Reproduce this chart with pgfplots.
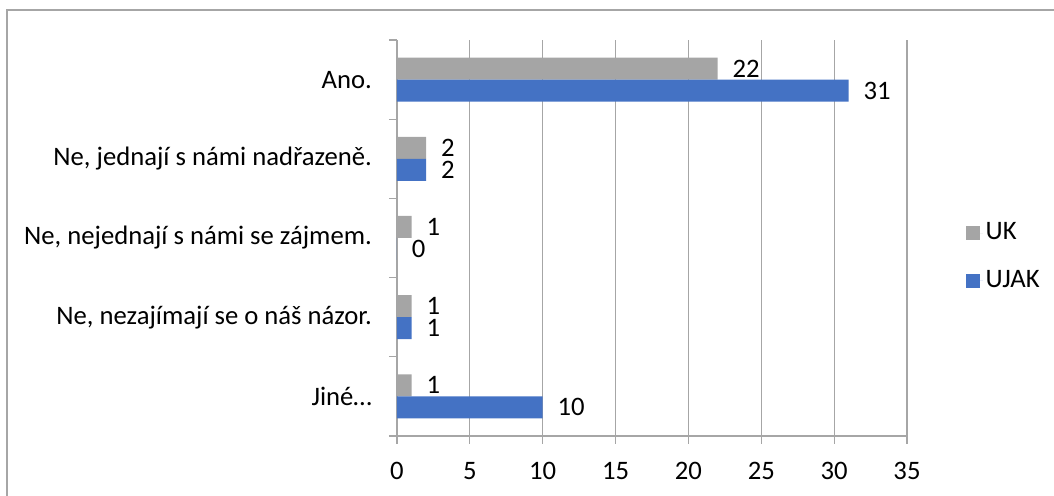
\documentclass[border=0pt]{standalone}
\usepackage{pgfplots}
\pgfplotsset{compat=1.18}
\usepackage{fontspec}
\setmainfont{Carlito}
\definecolor{ukgray}{HTML}{A5A5A5}
\definecolor{ujakblue}{HTML}{4472C4}
\definecolor{axgray}{HTML}{A6A6A6}
\begin{document}
\fontsize{20}{24}\selectfont
\begin{tikzpicture}[x=0.75pt,y=0.75pt]
\path[use as bounding box] (0,0) rectangle (1054,496);
\draw[color=axgray,line width=1.5pt] (6.5,0) -- (6.5,485.5) -- (1054,485.5);
\begin{axis}[
    at={(297.75pt,45pt)}, anchor=south west,
    scale only axis,
    width=382.5pt, height=297pt,
    xbar, bar width=16.5pt,
    xmin=0, xmax=35,
    ymin=-0.5, ymax=4.5,
    xtick={0,5,...,35},
    ytick={-0.5,0.5,1.5,2.5,3.5,4.5},
    yticklabels={},
    extra y ticks={0,1,2,3,4},
    extra y tick labels={Jiné…, {Ne, nezajímají se o náš názor.}, {Ne, nejednají s námi se zájmem.}, {Ne, jednají s námi nadřazeně.}, Ano.},
    extra y tick style={major tick length=0pt, yticklabel style={xshift=-12pt}},
    axis x line*=bottom, axis y line*=left,
    axis line style={draw=axgray, line width=0.8pt},
    tick style={draw=axgray, line width=0.8pt},
    tick align=outside, major tick length=6pt,
    xmajorgrids, grid style={draw=axgray, line width=0.8pt},
    xticklabel style={font=\fontsize{20}{24}\selectfont, yshift=-7pt},
    yticklabel style={font=\fontsize{20}{24}\selectfont},
    /pgf/number format/assume math mode=true,
    nodes near coords,
    every node near coord/.append style={anchor=west, inner sep=0pt, xshift=11pt, font=\fontsize{20}{24}\selectfont, color=black},
    legend style={at={(rel axis cs:1.108,0.452)}, anchor=west, draw=none, fill=none,
        font=\fontsize{20}{24}\selectfont, row sep=16pt},
    legend cell align=left,
    legend image code/.code={\fill[#1] (0pt,-5.25pt) rectangle (10.5pt,5.25pt);
        \path (0pt,0pt) -- (12.5pt,0pt);},
]
\addplot[fill=ukgray, draw=none, bar shift=8.25pt] coordinates {(22,4) (2,3) (1,2) (1,1) (1,0)};
\addplot[fill=ujakblue, draw=none, bar shift=-8.25pt] coordinates {(31,4) (2,3) (0,2) (1,1) (10,0)};
\legend{UK, UJAK}
\end{axis}
\end{tikzpicture}
\end{document}
